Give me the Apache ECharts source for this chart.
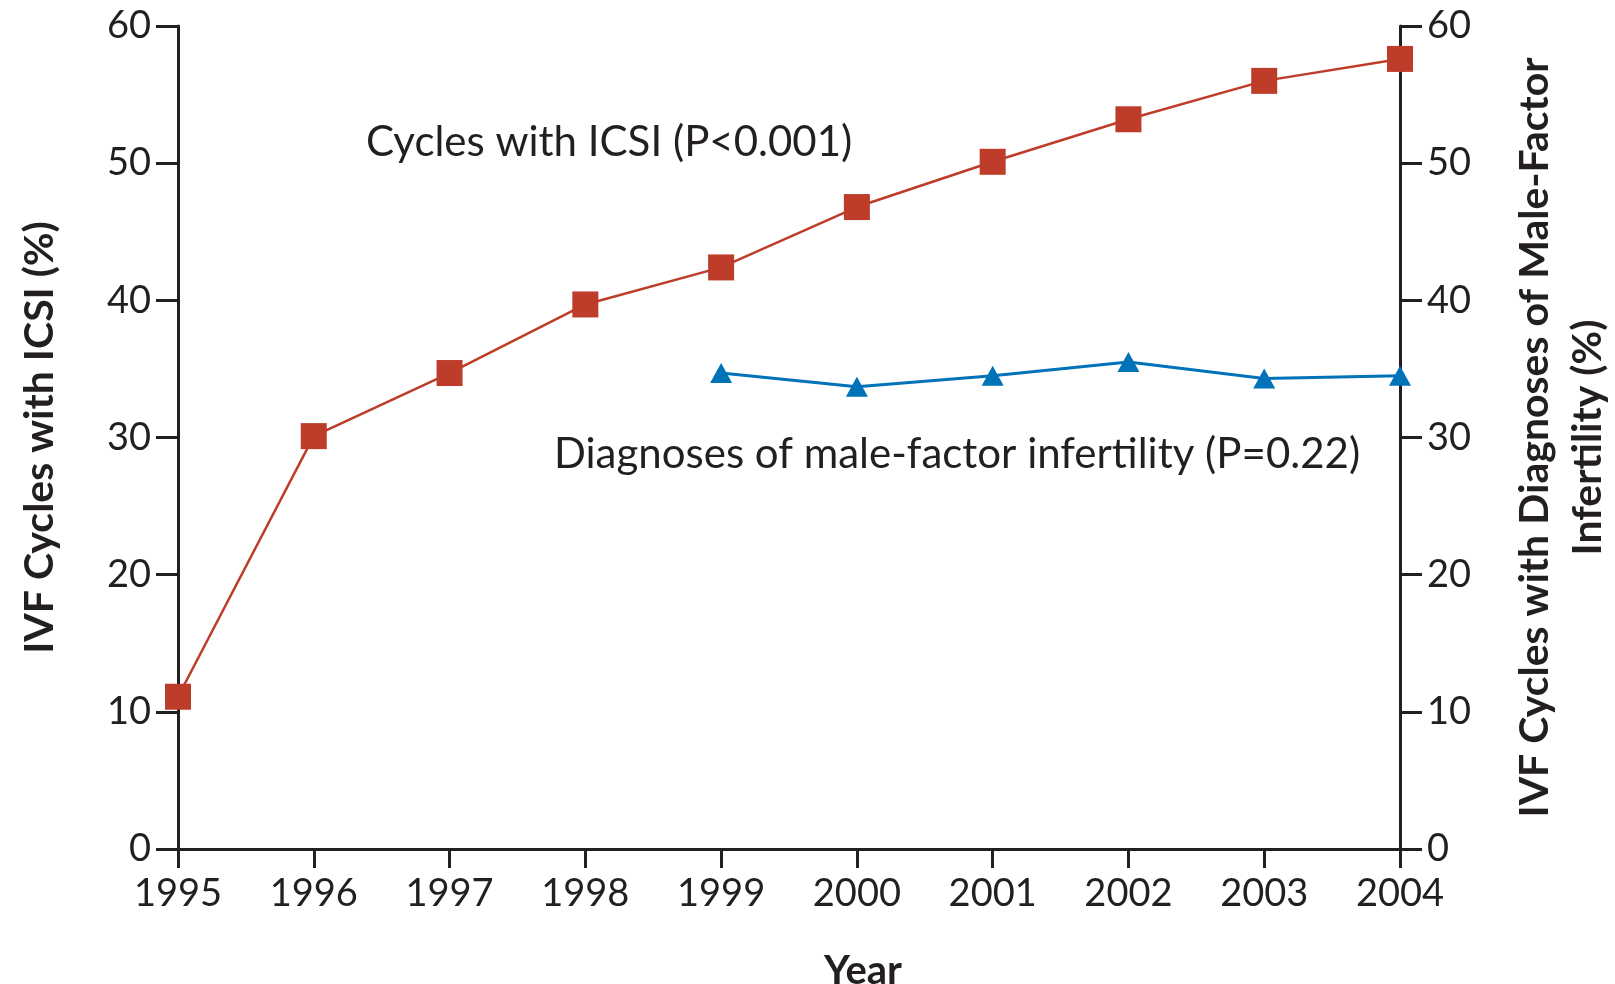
<!DOCTYPE html>
<html>
<head>
<meta charset="utf-8">
<script src="https://cdn.jsdelivr.net/npm/echarts@6/dist/echarts.min.js"></script>
<style>
    html, body {margin: 0; padding: 0; background: #fff;}
    #chart {width: 1615px; height: 984px;}
</style>
</head>
<body>
<div id="chart"></div>
<script>
var years = ['1995', '1996', '1997', '1998', '1999', '2000', '2001', '2002', '2003', '2004'];
var icsi = [11.1, 30.1, 34.7, 39.7, 42.4, 46.8, 50.1, 53.2, 56.0, 57.6];
var maleFactor = [null, null, null, null, 34.7, 33.7, 34.5, 35.5, 34.3, 34.5];
var yTicks = [0, 10, 20, 30, 40, 50, 60];

var ink = '#231f20', red = '#be3c2a', blue = '#0072b8';
var font = 'Lato';

var myChart = echarts.init(document.getElementById('chart'));

function yAxis(pos, name, gap) {
    return {
        type: 'value', position: pos, min: yTicks[0], max: yTicks[yTicks.length - 1], interval: 10,
        name: name, nameLocation: 'middle', nameGap: gap, nameRotate: 90,
        nameTextStyle: {fontFamily: font, fontSize: 41, fontWeight: 'bold', color: ink, lineHeight: 53},
        axisLine: {show: true, lineStyle: {color: ink, width: 3}},
        axisTick: {show: true, length: 22, lineStyle: {color: ink, width: 3}},
        axisLabel: {margin: 27, fontFamily: font, fontSize: 38, color: ink},
        splitLine: {show: false}
    };
}

var option = {
    animation: false,
    grid: {left: 178, right: 215, top: 26, bottom: 135, outerBoundsMode: 'none'},
    xAxis: {
        type: 'category', data: years, boundaryGap: false,
        name: 'Year', nameLocation: 'middle', nameGap: 102,
        nameTextStyle: {fontFamily: font, fontSize: 40, fontWeight: 'bold', color: ink, padding: [0, 0, 0, 148]},
        axisLine: {lineStyle: {color: ink, width: 3}},
        axisTick: {alignWithLabel: true, length: 19, lineStyle: {color: ink, width: 3}},
        axisLabel: {margin: 26, fontFamily: font, fontSize: 38, color: ink}
    },
    yAxis: [
        yAxis('left', 'IVF Cycles with ICSI (%)', 112),
        yAxis('right', 'IVF Cycles with Diagnoses of Male-Factor\nInfertility (%)', 108)
    ],
    graphic: [
        {type: 'text', left: 366, top: 121, style: {text: 'Cycles with ICSI (P<0.001)', font: '42px Lato', fill: ink}},
        {type: 'text', left: 554, top: 433, style: {text: 'Diagnoses of male-factor infertility (P=0.22)', font: '42px Lato', fill: ink}}
    ],
    series: [
        {
            type: 'line', data: icsi, yAxisIndex: 0,
            symbol: 'rect', symbolSize: 26,
            lineStyle: {color: red, width: 2.5},
            itemStyle: {color: red}
        },
        {
            type: 'line', data: maleFactor, yAxisIndex: 1,
            symbol: 'triangle', symbolSize: [22, 20],
            lineStyle: {color: blue, width: 3},
            itemStyle: {color: blue}
        }
    ]
};

myChart.setOption(option);
</script>
</body>
</html>
